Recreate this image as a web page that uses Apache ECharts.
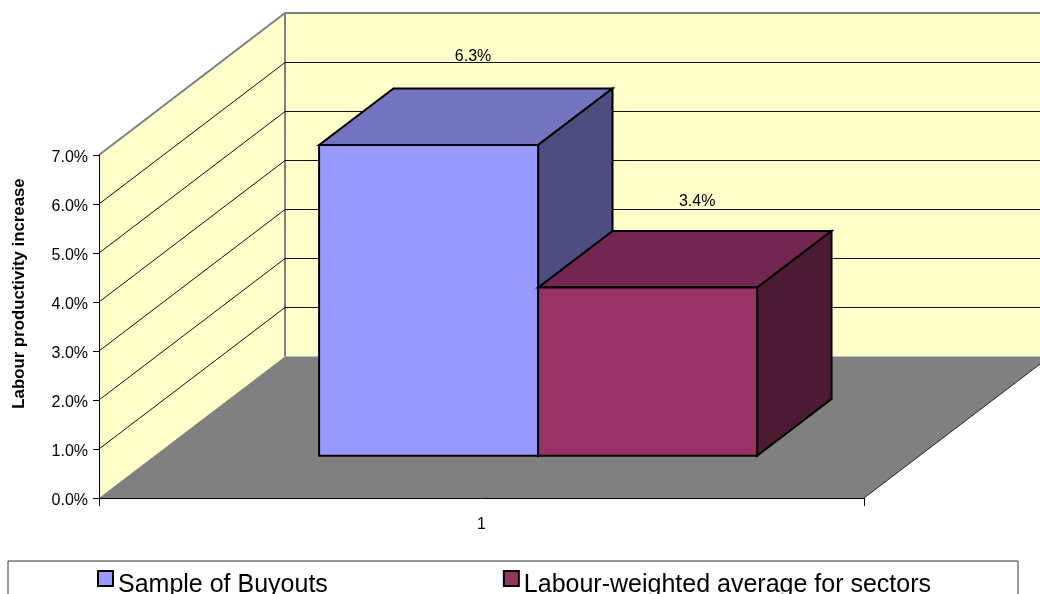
<!DOCTYPE html>
<html><head><meta charset="utf-8">
<style>html,body{margin:0;padding:0;background:#fff}#c{width:1040px;height:594px}</style>
<script src="https://cdn.jsdelivr.net/npm/echarts@6/dist/echarts.min.js"></script>
</head><body><div id="c"></div>
<script>
const categories = ['1'];
const yTicks = [1, 2, 3, 4, 5, 6, 7];
const buyouts = [6.34];
const sectors = [3.43];
const seriesNames = ['Sample of Buyouts', 'Labour-weighted average for sectors'];

const FONT = '"Liberation Sans", Arial, sans-serif';
const DEPTH = [186, -141.5];
const BACK_SCALE = 344 / 343;
const YMAX = 7;
const chart = echarts.init(document.getElementById('c'), null, {renderer: 'canvas'});

function ends(api, v) {
  const c = api.coord([0, v]);
  const w = api.size([1, 0])[0];
  return {l: c[0] - w / 2, r: c[0] + w / 2, y: c[1], w, cx: c[0]};
}
function backY(api, v) {
  const base = api.coord([0, 0])[1], y = api.coord([0, v])[1];
  return base + DEPTH[1] - (base - y) * BACK_SCALE;
}
function poly(points, fill, stroke, lw) {
  return {type: 'polygon', shape: {points}, style: {fill, stroke: stroke || null, lineWidth: lw || 0}};
}
function renderRoom(params, api) {
  const a = ends(api, 0), t = ends(api, YMAX);
  const dx = DEPTH[0];
  const bf = backY(api, 0), bt = backY(api, YMAX) + 0.5;
  return {type: 'group', children: [
    poly([[a.l + dx, bt], [a.r + dx, bt], [a.r + dx, bf], [a.l + dx, bf]], '#FFFFCC'),
    poly([[a.l, t.y], [a.l + dx, bt], [a.l + dx, bf], [a.l, a.y]], '#FFFFCC'),
    poly([[a.l, a.y], [a.r, a.y], [a.r + dx, bf], [a.l + dx, bf]], '#808080'),
    {type: 'polyline', shape: {points: [[a.r, a.y], [a.r + dx, bf]]}, style: {stroke: '#222', lineWidth: 1, fill: null}},
    {type: 'polyline', shape: {points: [[a.l, t.y], [a.l + dx, bt], [a.r + dx, bt]]}, style: {stroke: '#808080', lineWidth: 2, fill: null}},
    {type: 'polyline', shape: {points: [[a.l + dx, bt], [a.l + dx, bf]]}, style: {stroke: '#808080', lineWidth: 2, fill: null}}
  ]};
}
function renderGridline(params, api) {
  const v = api.value(1);
  const a = ends(api, v);
  const dx = DEPTH[0];
  if (v >= YMAX) return {type: 'group', children: []};
  const by = Math.round(backY(api, v)) + 0.5;
  return {type: 'polyline', shape: {points: [[a.l, a.y], [a.l + dx, by], [a.r + dx, by]]},
    style: {stroke: '#111', lineWidth: 1, fill: null}};
}
const FRONT = 0.299, BAR_W = 0.2863, BAR_D = 0.4;
function barSeries(name, data, slot, colors, labelDx, labelDy) {
  return {
    type: 'custom', name, data: data.map(v => [0, v]), z: 4, clip: false,
    itemStyle: {color: colors[0]},
    renderItem(params, api) {
      const v = api.value(1);
      const b = ends(api, 0), t = ends(api, v);
      const ox = DEPTH[0] * FRONT, oy = DEPTH[1] * FRONT;
      const bw = b.w * BAR_W;
      const x0 = b.cx + 1 + (slot - 1) * bw + ox, x1 = x0 + bw;
      const y0 = b.y + oy, y1 = t.y + oy;
      const ddx = DEPTH[0] * BAR_D, ddy = DEPTH[1] * BAR_D;
      return {type: 'group', children: [
        poly([[x0, y1], [x1, y1], [x1 + ddx, y1 + ddy], [x0 + ddx, y1 + ddy]], colors[1], '#000', 2),
        poly([[x1, y0], [x1, y1], [x1 + ddx, y1 + ddy], [x1 + ddx, y0 + ddy]], colors[2], '#000', 2),
        poly([[x0, y0], [x1, y0], [x1, y1], [x0, y1]], colors[0], '#000', 2),
        {type: 'text', x: x0 + bw / 2 + labelDx, y: y1 + labelDy, style: {
          text: v.toFixed(1) + '%', font: '16px ' + FONT, fill: '#000', align: 'center', verticalAlign: 'middle'}}
      ]};
    }
  };
}
chart.setOption({
  animation: false,
  backgroundColor: '#fff',
  grid: {left: 99, top: 155, width: 765, height: 343, outerBoundsMode: 'none', containLabel: false},
  xAxis: {type: 'category', data: categories, z: 6,
    axisLine: {lineStyle: {color: '#000', width: 1}},
    axisTick: {show: true, length: 8, lineStyle: {color: '#000'}},
    axisLabel: {color: '#000', fontSize: 16, fontFamily: FONT, margin: 19}},
  yAxis: {type: 'value', min: 0, max: YMAX, interval: 1, z: 6,
    name: 'Labour productivity increase', nameLocation: 'middle', nameGap: 71,
    nameTextStyle: {color: '#000', fontSize: 16.8, fontWeight: 'bold', fontFamily: FONT, padding: [0, 0, 0, 66]},
    axisLine: {show: true, lineStyle: {color: '#000', width: 1}},
    axisTick: {show: true, length: 6, lineStyle: {color: '#000'}},
    splitLine: {show: false},
    axisLabel: {color: '#000', fontSize: 16, fontFamily: FONT, margin: 11,
      formatter: v => '{a|' + v.toFixed(1) + '%}',
      rich: {a: {color: '#000', fontSize: 16, fontFamily: FONT, lineHeight: 22, verticalAlign: 'bottom'}}}},
  legend: {left: 8, top: 561, orient: 'horizontal', icon: 'rect', itemWidth: 15, itemHeight: 15,
    itemGap: 175, padding: [9, 87, 40, 89],
    borderColor: '#333', borderWidth: 1,
    data: [
      {name: seriesNames[0], itemStyle: {color: '#9999FF', borderColor: '#000', borderWidth: 2}},
      {name: seriesNames[1], itemStyle: {color: '#993366', borderColor: '#000', borderWidth: 2}}],
    formatter: n => '{t|' + n + '}',
    textStyle: {color: '#000', fontSize: 25, fontFamily: FONT,
      rich: {t: {color: '#000', fontSize: 25, fontFamily: FONT, lineHeight: 38, verticalAlign: 'bottom'}}}},
  series: [
    {type: 'custom', name: 'room', data: [[0, 0]], z: 1, clip: false, renderItem: renderRoom, silent: true},
    {type: 'custom', name: 'gridlines', data: yTicks.map(v => [0, v]), z: 2, clip: false, renderItem: renderGridline, silent: true},
    barSeries(seriesNames[0], buyouts, 0, ['#9999FF', '#7373BF', '#4D4D80'], 44.5, -88.5),
    barSeries(seriesNames[1], sectors, 1, ['#993366', '#732650', '#4D1A33'], 49.5, -86)
  ]
});
</script></body></html>
